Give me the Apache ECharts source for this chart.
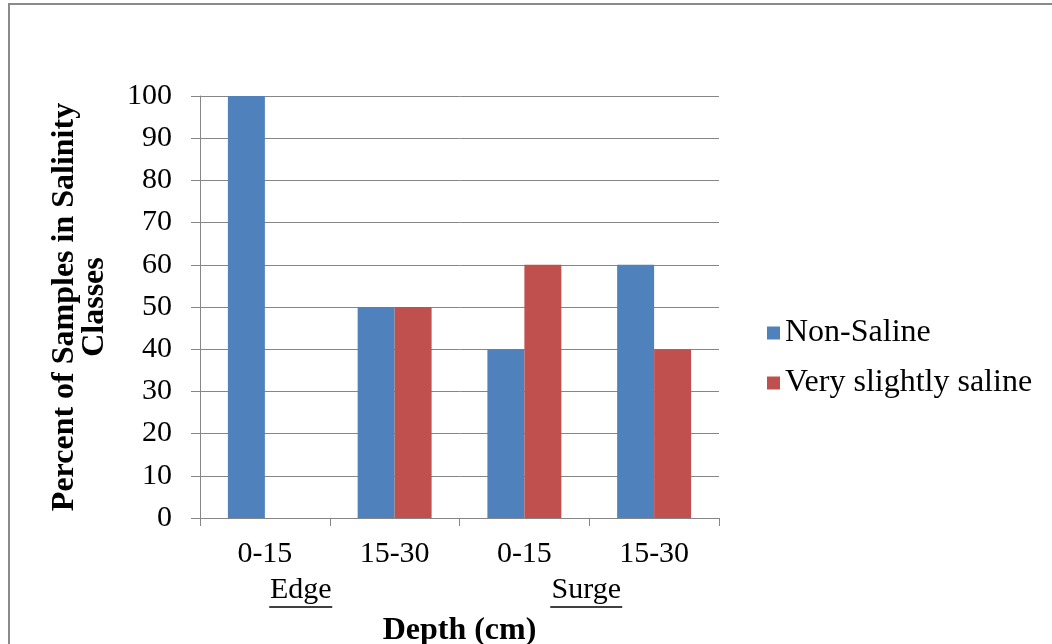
<!DOCTYPE html>
<html><head><meta charset="utf-8">
<script src="https://cdn.jsdelivr.net/npm/echarts@6/dist/echarts.min.js"></script>
<style>
html,body{margin:0;padding:0;background:#fff;}
#frame{position:absolute;left:8px;top:3px;width:1100px;height:700px;border-left:2px solid #8a8a8a;border-top:2px solid #8a8a8a;}
#c{position:absolute;left:0;top:0;width:1052px;height:644px;}
</style></head>
<body>
<div id="frame"></div>
<div id="c"></div>
<script>
const depths = ['0-15', '15-30', '0-15', '15-30'];
const sites = ['Edge', 'Surge'];
const nonSaline = [100, 50, 40, 60];
const verySlightlySaline = [0, 50, 60, 40];
const yTicks = { min: 0, max: 100, interval: 10 };

const FONT = '"Liberation Serif", "Times New Roman", serif';
const chart = echarts.init(document.getElementById('c'), null, { renderer: 'canvas' });
const axisGray = '#868686';

chart.setOption({
  animation: false,
  textStyle: { fontFamily: FONT, color: '#000' },
  grid: { left: 200, right: 333, top: 96, bottom: 126, containLabel: false, outerBoundsMode: 'none' },
  legend: {
    orient: 'vertical', left: 762, top: 310,
    icon: 'rect', itemWidth: 13, itemHeight: 13, itemGap: 14,
    textStyle: { fontFamily: FONT, fontSize: 32, color: '#000', lineHeight: 36 },
    data: ['Non-Saline', 'Very slightly saline']
  },
  xAxis: [
    {
      type: 'category', data: depths, position: 'bottom',
      axisLine: { lineStyle: { color: axisGray, width: 1 } },
      axisTick: { show: true, length: 8, lineStyle: { color: axisGray } },
      axisLabel: { fontFamily: FONT, fontSize: 30, color: '#000', margin: 21 },
      name: 'Depth (cm)', nameLocation: 'middle', nameGap: 97,
      nameTextStyle: { fontFamily: FONT, fontSize: 32, fontWeight: 'bold', color: '#000' }
    },
    {
      type: 'category', data: sites, position: 'bottom',
      axisLine: { show: false }, axisTick: { show: false },
      axisLabel: {
        margin: 56, fontFamily: FONT, fontSize: 30, color: '#000',
        formatter: function (v) {
          return v === 'Edge' ? '{t|' + v + '}{sp|}\n{ue|}{sp|}' : '{t|' + v + '}{sp2|}\n{us|}{sp2|}';
        },
        rich: {
          t: { fontFamily: FONT, fontSize: 30, color: '#000', lineHeight: 32 },
          sp: { width: 58, height: 1 },
          sp2: { width: 6, height: 1 },
          ue: { width: 63, height: 1.5, backgroundColor: '#000', lineHeight: 2 },
          us: { width: 72, height: 1.5, backgroundColor: '#000', lineHeight: 2 }
        }
      }
    }
  ],
  yAxis: {
    type: 'value', min: yTicks.min, max: yTicks.max, interval: yTicks.interval,
    axisLine: { show: true, lineStyle: { color: axisGray, width: 1 } },
    axisTick: { show: true, inside: false, length: 9, lineStyle: { color: axisGray } },
    axisLabel: { fontFamily: FONT, fontSize: 30, color: '#000', margin: 28 },
    splitLine: { lineStyle: { color: axisGray, width: 1 } },
    name: 'Percent of Samples in Salinity\nClasses', nameLocation: 'middle', nameRotate: 90, nameGap: 90,
    nameTextStyle: { fontFamily: FONT, fontSize: 32, fontWeight: 'bold', color: '#000', lineHeight: 30 }
  },
  series: [
    { name: 'Non-Saline', type: 'bar', data: nonSaline, xAxisIndex: 0, barGap: '0%', barCategoryGap: '43%',
      itemStyle: { color: '#4F81BD' } },
    { name: 'Very slightly saline', type: 'bar', data: verySlightlySaline, xAxisIndex: 0, barGap: '0%', barCategoryGap: '43%',
      itemStyle: { color: '#C0504D' } }
  ]
});
</script>
</body></html>
